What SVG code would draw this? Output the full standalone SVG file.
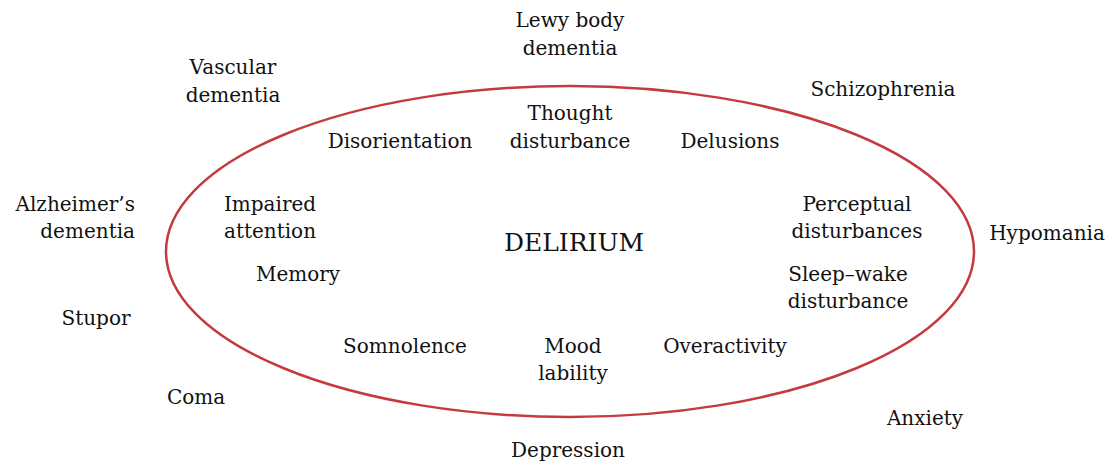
<svg xmlns="http://www.w3.org/2000/svg" width="1110" height="464" viewBox="0 0 1110 464">
<style>
text{font-family:"DejaVu Serif","Liberation Serif",serif;font-size:20px;fill:#111;text-anchor:middle}
.big{font-size:25px}
.r{text-anchor:end}
</style>
<rect width="1110" height="464" fill="#fff"/>
<g id="delirium-ellipse">
<ellipse cx="570" cy="251.5" rx="404" ry="165.5" fill="none" stroke="#c43a3e" stroke-width="2.5"/>
<text class="big" x="574" y="251">DELIRIUM</text>
</g>
<g id="inside">
<g id="thought"><text x="570" y="120">Thought</text><text x="570" y="148">disturbance</text></g>
<g id="disorientation"><text x="400" y="148">Disorientation</text></g>
<g id="delusions"><text x="730" y="148">Delusions</text></g>
<g id="impaired"><text x="270" y="211">Impaired</text><text x="270" y="238">attention</text></g>
<g id="perceptual"><text x="857" y="211">Perceptual</text><text x="857" y="238">disturbances</text></g>
<g id="memory"><text x="298" y="281">Memory</text></g>
<g id="sleep"><text x="848" y="281">Sleep–wake</text><text x="848" y="308">disturbance</text></g>
<g id="somnolence"><text x="405" y="353">Somnolence</text></g>
<g id="mood"><text x="573" y="353">Mood</text><text x="573" y="380">lability</text></g>
<g id="overactivity"><text x="725" y="353">Overactivity</text></g>
</g>
<g id="outside">
<g id="lewy"><text x="570" y="27">Lewy body</text><text x="570" y="55">dementia</text></g>
<g id="vascular"><text x="233" y="74">Vascular</text><text x="233" y="102">dementia</text></g>
<g id="schizophrenia"><text x="883" y="96">Schizophrenia</text></g>
<g id="alzheimer"><text class="r" x="135" y="211">Alzheimer’s</text><text class="r" x="135" y="238">dementia</text></g>
<g id="hypomania"><text x="1047" y="240">Hypomania</text></g>
<g id="stupor"><text x="96" y="325">Stupor</text></g>
<g id="coma"><text x="196" y="404">Coma</text></g>
<g id="anxiety"><text x="925" y="425">Anxiety</text></g>
<g id="depression"><text x="568" y="457">Depression</text></g>
</g>
<g id="connectors"></g>
</svg>
